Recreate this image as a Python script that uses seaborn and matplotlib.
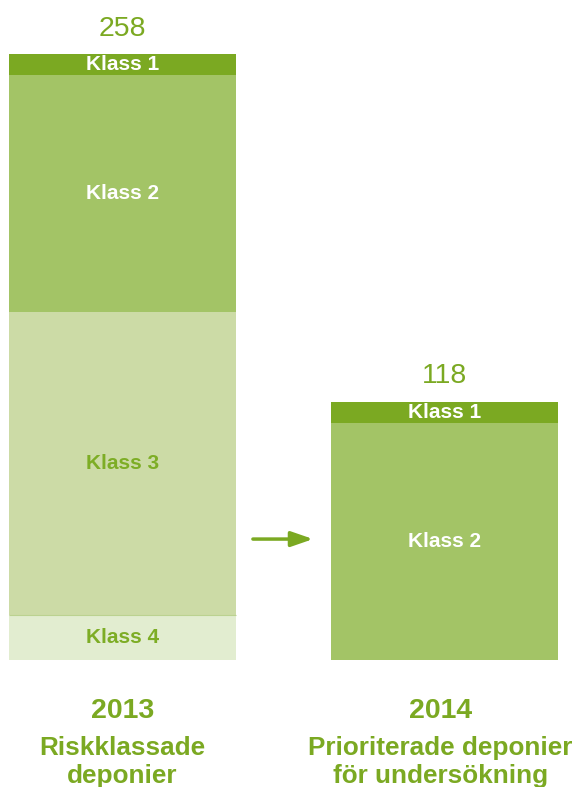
import numpy as np
import pandas as pd
import seaborn as sns
import matplotlib.pyplot as plt

# values (segments from the bottom up: Klass 4 .. Klass 1)
years = ['2013', '2014']
titles = [['Riskklassade', 'deponier'], ['Prioriterade deponier', 'för undersökning']]
totals = ['258', '118']
klass_names = ['Klass 1', 'Klass 2', 'Klass 3', 'Klass 4']
klass1 = [9, 9]
klass2 = [101, 101]
klass3 = [129, 0]
klass4 = [19, 0]

green = '#7BA922'
colors = ['#7BA922', '#A3C466', '#CCDBA6', '#E2EDD0']
label_colors = ['white', 'white', '#7DAD25', '#7DAD25']

sns.set_theme(style='white')
plt.rcParams['font.family'] = ['Liberation Sans', 'DejaVu Sans']

df = pd.DataFrame({'year': years, 'Klass 1': klass1, 'Klass 2': klass2,
                   'Klass 3': klass3, 'Klass 4': klass4})

fig = plt.figure(figsize=(5.79, 7.87), dpi=100)
ax = fig.add_axes([0, 0, 1, 1])

# stacked bars: draw cumulative heights from the top segment down
order_bottom_up = ['Klass 4', 'Klass 3', 'Klass 2', 'Klass 1']
cum = df[order_bottom_up].cumsum(axis=1)
for name in reversed(order_bottom_up):
    i = klass_names.index(name)
    sns.barplot(x=df['year'], y=cum[name], color=colors[i], saturation=1,
                width=0.705, linewidth=0, ax=ax)

# thin line between Klass 3 and Klass 4
ax.hlines(cum.loc[0, 'Klass 4'], -0.3525, 0.3525, color='#BBD290', lw=0.8)

# segment labels
for j in range(len(years)):
    bottom = 0
    for name in order_bottom_up:
        h = df.loc[j, name]
        if h > 0:
            i = klass_names.index(name)
            ax.text(j, bottom + h / 2, name, ha='center', va='center',
                    fontsize=15, fontweight='bold', color=label_colors[i])
        bottom += h
    # total above bar
    ax.text(j, bottom + 10.8, totals[j], ha='center', va='center',
            fontsize=20.5, color=green)
    # year and description below
    xt = j - 0.013 * j
    ax.text(xt, -24.7, years[j], ha='center', va='baseline',
            fontsize=20.5, fontweight='bold', color=green)
    ax.text(xt, -40.6, titles[j][0], ha='center', va='baseline',
            fontsize=18.8, fontweight='bold', color=green)
    ax.text(xt, -52.3, titles[j][1], ha='center', va='baseline',
            fontsize=18.8, fontweight='bold', color=green)

# arrow between the bars
ax.annotate('', xy=(0.592, 51.5), xytext=(0.405, 51.5),
            arrowprops=dict(arrowstyle='-|>,head_length=1.1,head_width=0.38',
                            color=green, lw=2.5, shrinkA=0, shrinkB=0))

ax.set_xlim(-0.3804, 1.4177)
ax.set_ylim(-54.1, 281.1)
ax.axis('off')

fig.savefig('out.png', dpi=100)
